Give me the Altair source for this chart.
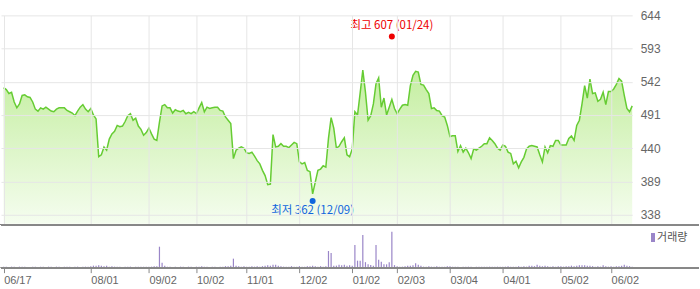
import altair as alt
import pandas as pd

# Daily closing prices (trading-day order)
prices = [
    533, 530, 524, 526, 511, 502, 508, 521, 522, 519,
    518, 511, 500, 497, 502, 500, 503, 500, 497, 496,
    500, 502, 502, 502, 498, 496, 494, 490, 497, 503,
    507, 500, 496, 501, 491, 485, 427, 430, 442, 437,
    454, 462, 466, 475, 473, 474, 481, 490, 493, 483,
    486, 474, 469, 460, 464, 471, 462, 454, 452, 480,
    505, 507, 502, 502, 494, 499, 497, 496, 498, 493,
    495, 493, 496, 493, 502, 510, 496, 503, 501, 502,
    503, 503, 498, 497, 488, 483, 478, 424, 437, 440,
    442, 440, 433, 432, 434, 428, 421, 416, 406, 398,
    384, 385, 461, 442, 443, 447, 443, 443, 441, 445,
    449, 447, 419, 416, 418, 406, 404, 370, 388, 406,
    408, 413, 411, 455, 487, 471, 440, 443, 450, 456,
    430, 427, 439, 496, 491, 525, 560, 526, 483, 490,
    508, 539, 548, 503, 517, 491, 503, 515, 501, 493,
    500, 506, 507, 506, 536, 552, 558, 557, 538, 537,
    530, 524, 501, 502, 498, 497, 490, 488, 475, 458,
    459, 459, 435, 444, 434, 440, 433, 424, 439, 437,
    440, 443, 447, 447, 456, 452, 447, 440, 437, 445,
    443, 434, 432, 416, 420, 410, 419, 426, 439, 443,
    444, 443, 442, 430, 419, 442, 433, 444, 443, 452,
    452, 445, 445, 445, 455, 459, 452, 475, 483, 508,
    536, 517, 546, 524, 525, 512, 515, 526, 507, 527,
    527, 531, 538, 547, 543, 521, 501, 496, 505,
]

# Daily volume (arbitrary units)
volumes = [
    1, 1, 0.5, 1, 1, 0.5, 1, 1, 1, 0.5,
    0, 1, 1, 0.5, 1, 1, 0.5, 1, 1, 0,
    1, 1, 0.5, 1, 1, 1, 0.5, 1, 1, 0.5,
    1, 1, 1, 1.5, 2, 2, 2.5, 2, 1.5, 2,
    1, 1.5, 1, 1, 1, 0.5, 1, 1, 1, 0.5,
    1, 1, 1, 1, 1, 1, 1, 1.5, 1.5, 21,
    5, 2, 1, 1, 0.5, 1, 0.5, 1, 1, 0.5,
    1, 1, 0.5, 1, 1, 1.5, 1, 1, 0.5, 1,
    1, 0.5, 1, 1, 1.5, 1.5, 2, 9, 2, 1.5,
    1, 1.5, 1, 1, 1.5, 1, 1.5, 1, 1.5, 2,
    2.5, 2, 3, 3, 2, 1.5, 1, 1, 1, 1.5,
    1, 1, 1.5, 1, 1, 1.5, 1.5, 2, 1.5, 1,
    1.5, 1, 1.5, 16.7, 14.7, 2, 2, 3, 2.5, 3,
    2, 2.5, 2, 22.7, 7, 7, 32.7, 5.5, 3.5, 2.7,
    2, 22.7, 8, 6, 3.3, 3.3, 5.3, 36, 2.5, 1.5,
    1, 1, 1.5, 2, 2, 2.5, 4.3, 3, 2, 1,
    1, 1.5, 1, 1, 1.5, 1, 1, 1, 1.5, 1.5,
    1, 1, 1, 0.5, 1, 1, 1, 1, 0.5, 1,
    1, 1, 1, 1, 1, 1, 1, 1, 1, 1,
    1, 1.5, 1, 1, 1, 1.5, 1, 1.5, 1, 2,
    2, 1.5, 3, 2, 1.5, 2, 1.5, 1, 1.5, 1,
    1.5, 1.5, 1, 1.5, 1.5, 2, 1.5, 2, 2.5, 2.5,
    2.5, 2, 2, 1.5, 1, 1.5, 1, 2.5, 1.5, 1,
    1.5, 1, 1.5, 1.5, 2, 3, 2, 1.5, 1,
]

tick_idx = [0, 33, 55, 73, 92, 112, 132, 149, 169, 189, 211, 230]
tick_labels = ["06/17", "08/01", "09/02", "10/02", "11/01", "12/02",
               "01/02", "02/03", "03/04", "04/01", "05/02", "06/02"]
price_ticks = [338, 389, 440, 491, 542, 593, 644]

high_idx, high_val, high_label = 147, 607, "최고 607 (01/24)"
low_idx, low_val, low_label = 117, 362, "최저 362 (12/09)"

n = min(len(prices), len(volumes))
df = pd.DataFrame({"idx": list(range(n)), "price": prices[:n], "volume": volumes[:n]})
hi_df = pd.DataFrame({"idx": [high_idx], "price": [high_val], "label": [high_label]})
lo_df = pd.DataFrame({"idx": [low_idx], "price": [low_val], "label": [low_label]})

FONT = "'Liberation Sans', 'Noto Sans CJK KR', sans-serif"
KFONT = "'Noto Sans CJK KR', sans-serif"
W = 633
H_PRICE = 209
H_VOL = 43
YMIN, YMAX = 324, 644

xscale = alt.Scale(domain=[-1, n - 1], nice=False, zero=False, padding=0)
yscale = alt.Scale(domain=[YMIN, YMAX], nice=False, zero=False)

x_axis = alt.Axis(values=tick_idx, grid=True, gridColor="#e6e6e6",
                  labels=False, ticks=False, domain=False, title=None, zindex=1)
y_axis = alt.Axis(orient="right", values=price_ticks, grid=True,
                  gridColor="#e6e6e6", ticks=False, domain=False,
                  title=None, labelPadding=8, labelAlign="left",
                  labelColor="#666666", labelFontSize=12, labelFont=FONT, zindex=1)

def X():
    return alt.X("idx:Q", scale=xscale, axis=x_axis, title=None)

def Y():
    return alt.Y("price:Q", scale=yscale, axis=y_axis, title=None)

area = alt.Chart(df).mark_area(
    color=alt.Gradient(gradient="linear",
                       stops=[alt.GradientStop(color="#c4eea0", offset=0),
                              alt.GradientStop(color="#f5fdef", offset=1)],
                       x1=1, x2=1, y1=0, y2=1)
).encode(x=X(), y=Y(), y2=alt.datum(YMIN))

line = alt.Chart(df).mark_line(color="#66cc33", strokeWidth=1.5).encode(x=X(), y=Y())

def marker(d, color, yoff, tdy):
    pt = alt.Chart(d).mark_circle(color=color, size=36, opacity=1, yOffset=yoff).encode(
        x=X(), y=Y())
    tx = alt.Chart(d).mark_text(color=color, fontSize=11.5, font=KFONT,
                                baseline="middle", align="center", dy=tdy).encode(
        x=X(), y=Y(), text="label:N")
    return [pt, tx]

price_chart = alt.layer(area, line, *marker(hi_df, "#ee0000", -3, -13),
                        *marker(lo_df, "#1166dd", 2, 12)).properties(width=W, height=H_PRICE)

label_expr = "".join(f"datum.value == {i} ? '{l}' : " for i, l in zip(tick_idx, tick_labels)) + "''"

bars = alt.Chart(df).mark_bar(size=1.2, color="#9a86c8").encode(
    x=alt.X("idx:Q", scale=xscale,
            axis=alt.Axis(values=tick_idx, labelExpr=label_expr, labelAlign="left",
                          labelBaseline="top", labelPadding=2, tickSize=5,
                          tickColor="#888888", domain=False, grid=False,
                          labelColor="#666666", labelFontSize=11, labelFont=FONT,
                          title=None, labelOverlap=False, labelFlush=False,
                          labelBound=False, labelOffset=0)),
    y=alt.Y("volume:Q", scale=alt.Scale(domain=[0, H_VOL], nice=False), axis=None),
)

sep = alt.Chart(df).mark_rule(color="#888888", strokeWidth=1).encode(
    x=alt.value(0), x2=alt.value(700), y=alt.value(0))
base = alt.Chart(df).mark_rule(color="#888888", strokeWidth=1).encode(
    x=alt.value(0), x2=alt.value(700), y=alt.value(H_VOL))
leg_sq = alt.Chart(df).mark_rect(color="#9a86c8").encode(
    x=alt.value(652), x2=alt.value(655), y=alt.value(9), y2=alt.value(17))
leg_tx = alt.Chart(pd.DataFrame({"t": ["거래량"]})).mark_text(
    align="left", baseline="middle", fontSize=11, font=KFONT, color="#555555").encode(
    x=alt.value(658), y=alt.value(13), text="t:N")

vol_chart = alt.layer(bars, sep, base, leg_sq, leg_tx).properties(width=W, height=H_VOL)

chart = alt.vconcat(price_chart, vol_chart, spacing=0).properties(
    padding={"left": 0, "top": 9, "right": 0, "bottom": 0},
    background="white",
).configure_view(stroke=None)

chart.save("out.html", embed_options={"renderer": "svg", "actions": False})
